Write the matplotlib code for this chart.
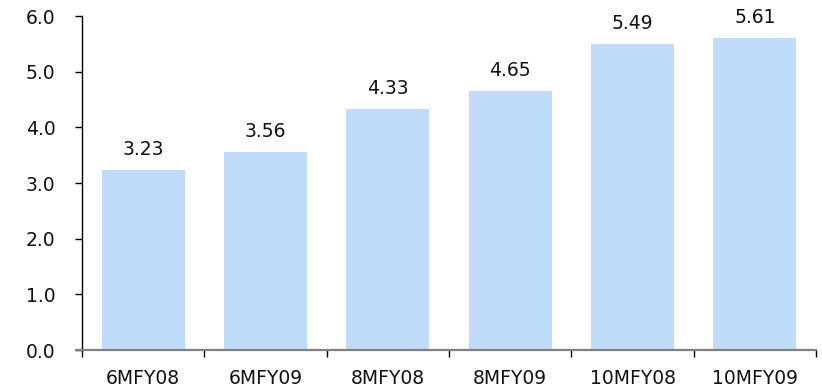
import matplotlib.pyplot as plt
import numpy as np

categories = ["6MFY08", "6MFY09", "8MFY08", "8MFY09", "10MFY08", "10MFY09"]
values = [3.23, 3.56, 4.33, 4.65, 5.49, 5.61]
y_ticks = [0.0, 1.0, 2.0, 3.0, 4.0, 5.0, 6.0]

bar_color = "#bfddfb"
font_size = 13.5

fig = plt.figure(figsize=(8.22, 3.92), dpi=100)
ax = fig.add_axes([82 / 822, 1 - 350 / 392, 734 / 822, 334 / 392])

x = np.arange(len(categories))
bars = ax.bar(x, values, width=0.68, color=bar_color, zorder=2)

for rect, v in zip(bars, values):
  ax.annotate(f"{v:.2f}", (rect.get_x() + rect.get_width() / 2, v),
              xytext=(0, 8), textcoords="offset points",
              ha="center", va="bottom", fontsize=font_size, color="#111111")

ax.set_xlim(-0.5, len(categories) - 0.5)
ax.set_ylim(0, 6)

# y axis
ax.set_yticks(y_ticks)
ax.set_yticklabels([f"{t:.1f}" for t in y_ticks], fontsize=font_size, color="#111111")
ax.tick_params(axis="y", direction="out", length=5, width=1, pad=14, color="black")

# category labels centered, ticks on category boundaries
ax.set_xticks(x)
ax.set_xticklabels(categories, fontsize=font_size, color="#111111")
ax.set_xticks(np.arange(-0.5, len(categories)), minor=True)
ax.tick_params(axis="x", which="major", length=0, pad=14)
ax.tick_params(axis="x", which="minor", direction="out", length=5, width=1, color="black")

for side in ["top", "right"]:
  ax.spines[side].set_visible(False)
ax.spines["left"].set_color("black")
ax.spines["left"].set_linewidth(1)
ax.spines["bottom"].set_visible(False)

# gray baseline running a little past the y axis
ax.plot([-0.545, len(categories) - 0.5], [0, 0], color="#808080", lw=1.6,
        clip_on=False, zorder=3)

plt.savefig("out.png", dpi=100)
